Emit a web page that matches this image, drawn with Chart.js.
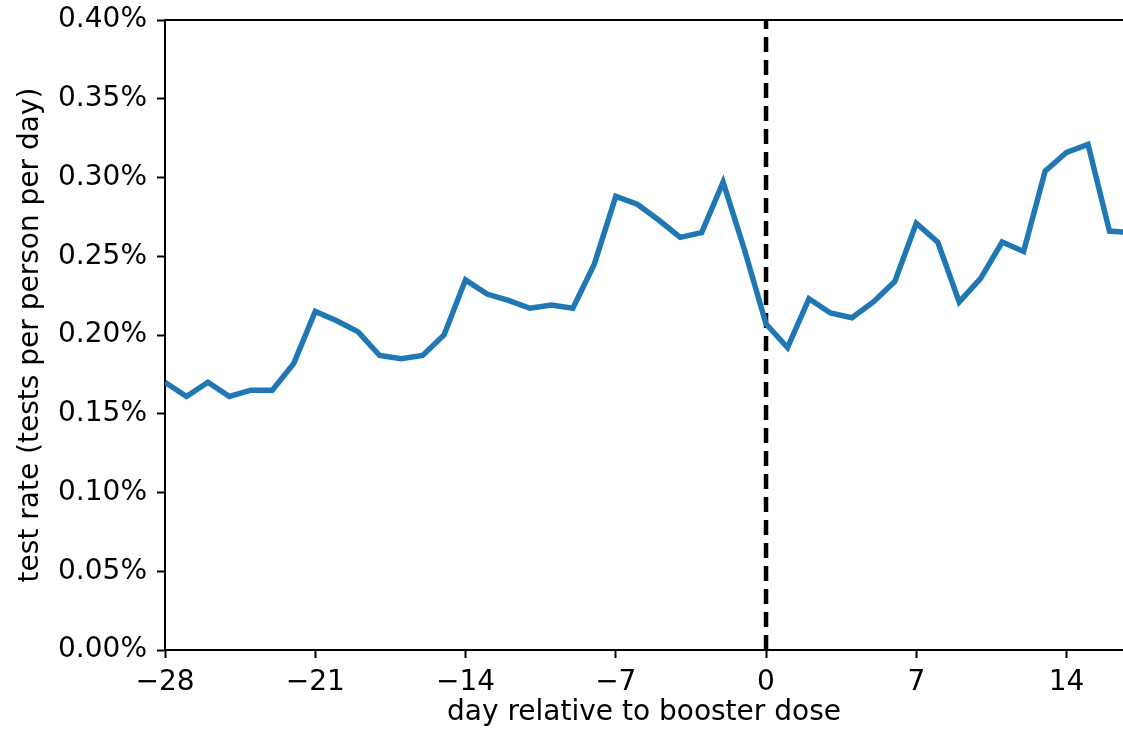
<!DOCTYPE html>
<html>
<head>
<meta charset="utf-8">
<script src="https://cdn.jsdelivr.net/npm/chart.js@4.4.1/dist/chart.umd.min.js"></script>
<style>
    html, body { margin: 0; padding: 0; background: #fff; }
    #wrap { width: 1123px; height: 738px; }
</style>
</head>
<body>
<div id="wrap"><canvas id="chart-line" width="1123" height="738"></canvas></div>
<script>
    // days relative to booster dose
    const days = [-28, -27, -26, -25, -24, -23, -22, -21, -20, -19, -18, -17, -16, -15, -14,
        -13, -12, -11, -10, -9, -8, -7, -6, -5, -4, -3, -2, -1,
        0, 1, 2, 3, 4, 5, 6, 7, 8, 9, 10, 11, 12, 13, 14, 15, 16, 17];
    // test rate in percent (tests per person per day)
    const testRate = [0.170, 0.161, 0.170, 0.161, 0.165, 0.165, 0.182, 0.215, 0.209, 0.202, 0.187, 0.185, 0.187, 0.200, 0.235,
        0.226, 0.222, 0.217, 0.219, 0.217, 0.245, 0.288, 0.283, 0.273, 0.262, 0.265, 0.297, 0.254,
        0.207, 0.192, 0.223, 0.214, 0.211, 0.221, 0.234, 0.271, 0.259, 0.221, 0.236, 0.259, 0.253, 0.304, 0.316, 0.321, 0.266, 0.265];
    const xTicks = [-28, -21, -14, -7, 0, 7, 14];
    const yTicks = [0, 0.05, 0.10, 0.15, 0.20, 0.25, 0.30, 0.35, 0.40];
    const boosterDay = 0;

    const font = { family: "'DejaVu Sans', sans-serif", size: 28 };

    const ctx = document.getElementById("chart-line").getContext("2d");

    new Chart(ctx, {
        type: "line",
        data: {
            datasets: [
                {
                    data: days.map((d, i) => ({ x: d, y: testRate[i] })),
                    borderColor: "#1f77b4",
                    borderWidth: 5.5,
                    pointRadius: 0,
                    tension: 0,
                    fill: false
                },
                {
                    data: [{ x: boosterDay, y: yTicks[0] }, { x: boosterDay, y: yTicks[yTicks.length - 1] }],
                    borderColor: "#000",
                    borderWidth: 4.5,
                    borderDash: [15, 8],
                    pointRadius: 0,
                    fill: false
                }
            ]
        },
        options: {
            responsive: false,
            animation: false,
            layout: { padding: { top: 20, right: 0, left: 0, bottom: 0 } },
            plugins: {
                legend: { display: false },
                tooltip: { enabled: false }
            },
            scales: {
                x: {
                    type: "linear",
                    position: "bottom",
                    min: -28,
                    max: 16.63,
                    afterBuildTicks: (scale) => { scale.ticks = xTicks.map(v => ({ value: v })); },
                    afterFit: (scale) => {
                        scale.height = 88;
                        scale.paddingLeft = 0;
                        scale.paddingRight = 0;
                    },
                    grid: { drawOnChartArea: false, drawTicks: true, tickLength: 8, tickWidth: 2, tickColor: "#000" },
                    border: { display: true, color: "#000", width: 2 },
                    ticks: {
                        color: "#000",
                        font: font,
                        padding: 8,
                        maxRotation: 0,
                        callback: (v) => (v < 0 ? "\u2212" + Math.abs(v) : String(v))
                    },
                    title: {
                        display: true,
                        text: "day relative to booster dose",
                        color: "#000",
                        font: font,
                        padding: { top: 0, bottom: 8 }
                    }
                },
                xTop: {
                    type: "linear",
                    position: "top",
                    min: -28,
                    max: 16.63,
                    afterFit: (scale) => { scale.height = 0; },
                    grid: { display: false },
                    border: { display: true, color: "#000", width: 2 },
                    ticks: { display: false }
                },
                y: {
                    min: 0,
                    max: 0.40,
                    afterBuildTicks: (scale) => { scale.ticks = yTicks.map(v => ({ value: v })); },
                    afterFit: (scale) => {
                        scale.width = 165;
                        scale.paddingTop = 0;
                        scale.paddingBottom = 0;
                    },
                    grid: { drawOnChartArea: false, drawTicks: true, tickLength: 8, tickWidth: 2, tickColor: "#000" },
                    border: { display: true, color: "#000", width: 2 },
                    ticks: {
                        color: "#000",
                        font: font,
                        padding: 10,
                        callback: (v) => v.toFixed(2) + "%"
                    },
                    title: {
                        display: true,
                        text: "test rate (tests per person per day)",
                        color: "#000",
                        font: font,
                        padding: { top: 14, bottom: 0 }
                    }
                }
            }
        }
    });
</script>
</body>
</html>
